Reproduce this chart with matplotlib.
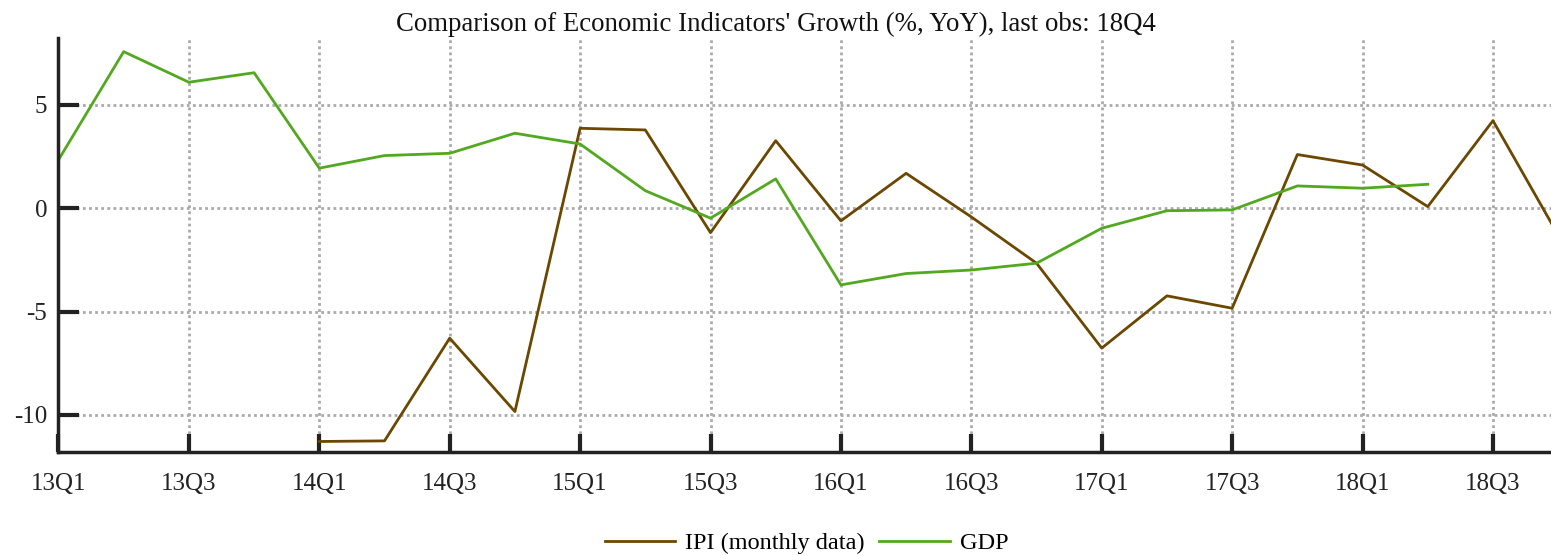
import numpy as np
import matplotlib
matplotlib.use("Agg")
import matplotlib.pyplot as plt

plt.rcParams['font.family'] = ['Liberation Serif', 'DejaVu Serif']
plt.rcParams['axes.unicode_minus'] = False

# quarterly data, 13Q1 .. 18Q4
quarters = [f"{y}Q{q}" for y in range(13, 19) for q in range(1, 5)]
gdp = [2.34, 7.58, 6.1, 6.56, 1.94, 2.55, 2.66, 3.63, 3.11, 0.85, -0.48, 1.42,
       -3.71, -3.16, -2.99, -2.66, -0.97, -0.12, -0.08, 1.08, 0.97, 1.16, None, None]
ipi = [None, None, None, None, -11.29, -11.26, -6.29, -9.84, 3.87, 3.79, -1.18, 3.27,
       -0.61, 1.69, -0.42, -2.66, -6.77, -4.24, -4.84, 2.6, 2.09, 0.08, 4.24, -1.3]

x = np.arange(len(quarters))
gdp_arr = np.array([np.nan if v is None else v for v in gdp])
ipi_arr = np.array([np.nan if v is None else v for v in ipi])

fig = plt.figure(figsize=(15.51, 5.56), dpi=100)
ax = fig.add_axes([0.0377, 0.187, 0.9623, 0.745])

ax.plot(x, ipi_arr, color='#6b4700', lw=2, label='IPI (monthly data)')
ax.plot(x, gdp_arr, color='#52a81e', lw=2, label='GDP')

ax.set_xlim(0, 22.89)
ax.set_ylim(-11.8, 8.25)
ax.set_xticks(x[::2])
ax.set_xticklabels(quarters[::2])
ax.set_yticks([-10, -5, 0, 5])

ax.grid(True, color='#aaaaaa', linestyle=(0, (1, 1.2)), lw=2)
ax.set_axisbelow(True)

for s in ['top', 'right']:
    ax.spines[s].set_visible(False)
for s in ['left', 'bottom']:
    ax.spines[s].set_color('#222222')
    ax.spines[s].set_linewidth(2.5)

ax.tick_params(axis='y', direction='in', length=15, width=3, color='#222222',
               labelsize=18, pad=8, labelcolor='#222222')
ax.tick_params(axis='x', direction='in', length=13, width=3, color='#222222',
               labelsize=18, pad=15, labelcolor='#222222')

# title centred on the figure, not the axes
ax.set_title("Comparison of Economic Indicators' Growth (%, YoY), last obs: 18Q4",
             fontsize=19.3, pad=5, color='#111111', x=0.4804)

fig.legend(loc='lower center', bbox_to_anchor=(0.52, -0.036), ncol=2, frameon=False,
           fontsize=17.5, handlelength=2.9, columnspacing=0.6, handletextpad=0.4)

fig.savefig('out.png', dpi=100)
